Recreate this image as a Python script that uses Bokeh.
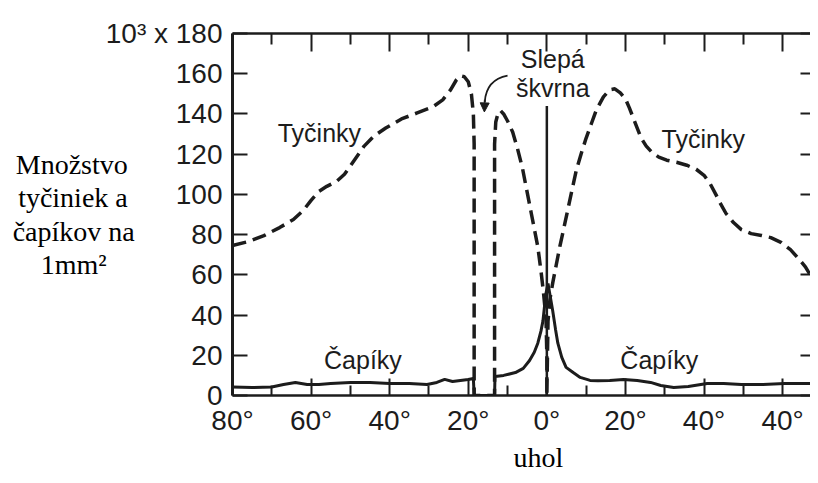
from bokeh.plotting import figure
from bokeh.models import (Range1d, LinearAxis, FixedTicker, Label, Arrow,
                          NormalHead, ColumnDataSource, Title)
from bokeh.embed import file_html
from bokeh.resources import INLINE

# ---- data (degrees: negative = left side of chart) ----
rods_deg = [-80, -76, -72, -68, -64.5, -62, -60, -58, -56, -53.5, -51.5, -49, -46.5,
            -44, -41, -37, -33, -29, -26.5, -24.5, -23, -22, -21, -20, -19.2, -18.7,
            -18.5, -18.5, -13.3, -13.3, -13.0, -12.4, -11.8, -11, -10, -8.7, -7.5,
            -6.2, -5, -4.1, -3.2, -2.3, -1.5, -0.9, -0.5, -0.2, 0.0, 0.0, 0.3, 0.8,
            1.5, 2.4, 3.3, 4.3, 5.4, 6.5, 7.5, 8.7, 10, 11.3, 12.6, 14.4, 16, 17.3,
            18.7, 20, 21, 22, 23, 24, 25.3, 26.7, 28.5, 30.5, 33, 35.6, 38, 40, 41.5,
            43, 44.3, 45.6, 47.5, 49.5, 52, 54.6, 57, 59.7, 62, 63.8, 65.8, 67.4,
            68.8, 70]
rods_val = [74.6, 76.5, 79.5, 83.5, 87.5, 92, 97, 101.5, 104, 106.5, 110, 117, 124,
            129, 133, 137.5, 140.5, 143.5, 147, 152, 157, 159, 158.5, 156, 150, 140,
            125, 0, 0, 125, 136, 140.5, 141.7, 140, 136.5, 131, 123,
            113, 101, 92, 83, 74, 62, 52, 44, 37, 20, 0, 37, 48,
            56, 65, 74, 83, 93, 103, 112, 120, 128, 135, 142, 148.5, 152, 152.5,
            150.5, 147.5, 143, 138, 133, 128, 124, 121, 118.5, 117, 116, 114.5, 112.5,
            109.5, 105.5, 100, 95, 90.5, 86, 82.5, 80.5, 79.6, 78.5, 76, 72.5, 68.6,
            64, 58.7, 52, 45.7]

cones_deg = [-80, -75, -70, -67, -64, -61, -58, -55, -50, -45, -40, -35, -30.5, -28,
             -26, -24, -22, -20, -18.7, -18.5, -13.3, -13.2, -11, -8, -6, -4.4, -3.2,
             -2.3, -1.5, -1, -0.5, -0.2, 0.3, 0.8, 1.5, 2.2, 2.8, 3.8, 4.9, 6.7, 8.5,
             11, 13, 16, 19.5, 23, 26.4, 29, 32.3, 36, 40.8, 45, 49.5, 55, 60.5, 65, 70]
cones_val = [4.2, 4.0, 4.2, 5.5, 6.5, 5.5, 5.5, 6, 6.5, 6.5, 6, 6, 5.5, 6.5,
             8, 7, 7.5, 8, 8.5, 0, 0, 9.5, 10, 11.4, 13.5, 17.4, 21.5,
             26, 32, 37, 46, 51, 55.7, 50, 42, 33, 26, 19, 14, 11.4, 9,
             7.5, 7.3, 7.5, 8, 7.5, 6.5, 5, 4, 4.5, 6, 6, 5.5, 5.5, 6, 6, 6]

fovea_x = [0, 0]
fovea_y = [0, 144]

x_major = [-80, -60, -40, -20, 0, 20, 40, 60]
x_minor = [-70, -50, -30, -10, 10, 30, 50, 70]
x_labels = ["80°", "60°", "40°", "20°", "0°", "20°", "40°", "40°"]
y_major = [0, 20, 40, 60, 80, 100, 120, 140, 160, 180]
y_top_label = "10³ x 180"

NB = "\u00a0"
ylabel_lines = ["Množstvo", "tyčiniek a", "čapíkov na", "1mm²"]
ylabel_pad = [1, 1, 0, 4]          # trailing spaces to centre each line
ylabel = "\n".join(t + NB * n for t, n in zip(ylabel_lines, ylabel_pad))
xlabel = "uhol"

notes = ["Tyčinky", "Tyčinky", "Čapíky", "Čapíky", "Slepá", "škvrna"]
notes_x = [-68.5, 29.2, -56.7, 18.7, 1.5, 1.5]
notes_y = [130.3, 127.3, 17.9, 17.9, 167.1, 152.7]
notes_align = ["left", "left", "left", "left", "center", "center"]

arrow_curve = dict(x0=-10.0, y0=159.0, cx=-15.4, cy=157.0, x1=-15.8, y1=146.0)
arrow_tip = dict(x_start=-15.8, y_start=147.0, x_end=-15.9, y_end=141.0)

INK = "#1c1c1c"
SANS = "Liberation Sans"
SERIF = "Liberation Serif"

p = figure(width=810, height=475, output_backend="svg", toolbar_location=None,
           x_range=Range1d(-80, 67.1), y_range=Range1d(0, 180),
           x_axis_location=None, y_axis_location=None,
           min_border_left=232, min_border_right=0, min_border_top=33,
           min_border_bottom=80)
p.grid.grid_line_color = None
p.outline_line_color = None
p.background_fill_color = "white"
p.border_fill_color = "white"

xt = FixedTicker(ticks=x_major, minor_ticks=x_minor)
yt = FixedTicker(ticks=y_major)

common = dict(axis_line_color=INK, major_tick_line_color=INK,
              minor_tick_line_color=INK, major_label_text_color=INK,
              major_label_text_font=SANS, major_label_text_font_size="28px")

bottom = LinearAxis(ticker=xt, major_label_overrides=dict(zip(x_major, x_labels)),
                    major_tick_in=17, major_tick_out=0, minor_tick_in=10,
                    minor_tick_out=0, axis_line_width=2.5, major_tick_line_width=2,
                    minor_tick_line_width=2, major_label_standoff=9, **common)
p.add_layout(bottom, "below")

top = LinearAxis(ticker=xt, major_tick_in=18, major_tick_out=0, minor_tick_in=11,
                 minor_tick_out=0, axis_line_width=2.5, major_tick_line_width=2,
                 minor_tick_line_width=2, major_label_standoff=0,
                 major_label_overrides={t: "" for t in x_major},
                 **{**common, "major_label_text_font_size": "1px"})
p.add_layout(top, "above")

left = LinearAxis(ticker=yt, major_label_overrides={180: y_top_label},
                  major_tick_in=15, major_tick_out=0, axis_line_width=3,
                  major_tick_line_width=2, major_label_standoff=10,
                  axis_label=ylabel, axis_label_orientation="horizontal",
                  axis_label_standoff=-32, axis_label_text_font=SERIF,
                  axis_label_text_font_size="28px", axis_label_text_font_style="normal",
                  axis_label_text_color="black", axis_label_text_align="center",
                  axis_label_text_line_height=1.08,
                  **common)
p.add_layout(left, "left")

right = LinearAxis(ticker=yt, major_tick_in=10, major_tick_out=0,
                   major_tick_line_width=2, major_label_standoff=0,
                   major_label_overrides={t: "" for t in y_major},
                   **{**common, "major_label_text_font_size": "1px",
                      "axis_line_color": None})
p.add_layout(right, "right")

p.add_layout(Title(text=xlabel, align="left", offset=281, standoff=2,
                   text_font=SERIF, text_font_size="28px", text_font_style="normal",
                   text_color="black"), "below")

rods = ColumnDataSource(dict(x=rods_deg, y=rods_val))
cones = ColumnDataSource(dict(x=cones_deg, y=cones_val))
p.line("x", "y", source=rods, line_color=INK, line_width=3.5, line_dash="14 7")
p.line("x", "y", source=cones, line_color=INK, line_width=3)
p.line(fovea_x, fovea_y, line_color=INK, line_width=2.5)

p.quadratic(line_color=INK, line_width=1.8, **arrow_curve)
p.add_layout(Arrow(end=NormalHead(size=9, fill_color=INK, line_color=INK),
                   line_color=INK, line_width=1.8, **arrow_tip))

for t, x, y, a in zip(notes, notes_x, notes_y, notes_align):
    p.add_layout(Label(x=x, y=y, text=t, text_font=SANS, text_font_size="25px",
                       text_color=INK, text_align=a, text_baseline="alphabetic"))

open("out.html", "w").write(file_html(p, INLINE))
